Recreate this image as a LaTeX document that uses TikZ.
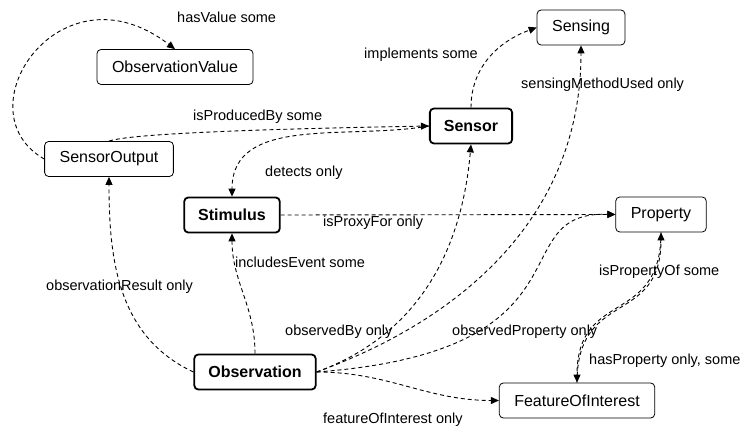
\documentclass[tikz,border=0pt]{standalone}
\usepackage{fontspec}
\setmainfont{Liberation Sans}
\usetikzlibrary{arrows.meta}

\begin{document}
\begin{tikzpicture}[x=1pt,y=1pt,
	classbox/.style={draw, rounded corners=4pt, line width=0.8pt, inner xsep=15pt,
		minimum height=35pt, font=\fontsize{16}{19}\selectfont},
	corebox/.style={classbox, line width=1.8pt, inner xsep=14pt,
		font=\fontsize{16}{19}\selectfont\bfseries},
	prop/.style={line width=0.9pt, dash pattern=on 4pt off 3pt,
		-{Triangle[length=8pt,width=7pt]}},
	proplabel/.style={anchor=west, inner sep=0pt, font=\fontsize{14.5}{17}\selectfont}]

	\useasboundingbox (0,0) rectangle (741,431);

	% classes
	\node[classbox] (obsvalue) at (175,364) {ObservationValue};
	\node[classbox] (sensoroutput) at (109,272) {SensorOutput};
	\node[corebox]  (stimulus) at (232,216) {Stimulus};
	\node[corebox]  (sensor) at (471,305) {Sensor};
	\node[classbox] (sensing) at (581,403.5) {Sensing};
	\node[classbox] (property) at (661,216.5) {Property};
	\node[corebox]  (observation) at (255,59) {Observation};
	\node[classbox] (foi) at (577,30.5) {FeatureOfInterest};

	% properties
	\draw[prop] (sensoroutput.north) .. controls (135,299) and (320,303) .. (sensor.west);
	\draw[prop] (sensoroutput.west) .. controls (-40,320) and (60,470) .. (obsvalue.north);
	\draw[prop] (sensor.west) to[out=190,in=90] (stimulus.north);
	\draw[prop] (sensor.north) to[out=90,in=200] (sensing.west);
	\draw[prop] (observation.east) to[out=20,in=-90] (sensing.south);
	\draw[prop] (stimulus.east) -- (property.west);
	\draw[prop] (observation.north) to[out=90,in=-90] (stimulus.south);
	\draw[prop] (observation.west) to[out=155,in=-90] (sensoroutput.south);
	\draw[prop] (observation.east) to[out=20,in=-95] (sensor.south);
	\draw[prop] (observation.east) .. controls (600,80) and (500,220) .. (property.west);
	\draw[prop] (observation.east) to[out=0,in=180] (foi.west);
	\draw[prop] (foi.north) to[out=90,in=-90,looseness=1.4] (property.south);
	\draw[prop] (property.south) to[out=-90,in=90,looseness=1.4] (foi.north);

	% property labels
	\node[proplabel] (lhasvalue) at (177,414) {hasValue some};
	\node[proplabel] (lproducedby) at (193,314) {isProducedBy some};
	\node[proplabel] (ldetects) at (265,258) {detects only};
	\node[proplabel] (limplements) at (364,376) {implements some};
	\node[proplabel] (lmethod) at (521,346) {sensingMethodUsed only};
	\node[proplabel] (lproxy) at (323,208) {isProxyFor only};
	\node[proplabel] (levent) at (235,169) {includesEvent some};
	\node[proplabel] (lresult) at (46,144) {observationResult only};
	\node[proplabel] (lobservedby) at (285,99) {observedBy only};
	\node[proplabel] (lobsproperty) at (452,99) {observedProperty only};
	\node[proplabel] (lfoi) at (323,11) {featureOfInterest only};
	\node[proplabel] (lpropertyof) at (599,159) {isPropertyOf some};
	\node[proplabel] (lhasproperty) at (589,70) {hasProperty only, some};

\end{tikzpicture}
\end{document}
